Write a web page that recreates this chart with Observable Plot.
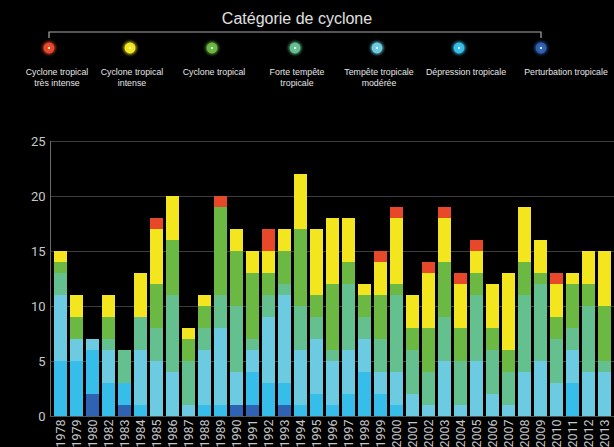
<!DOCTYPE html>
<html><head><meta charset="utf-8">
<script src="https://cdn.jsdelivr.net/npm/d3@7"></script>
<script src="https://cdn.jsdelivr.net/npm/@observablehq/plot@0.6"></script>
<style>
html,body{margin:0;padding:0;background:#000;}
body{width:614px;height:447px;overflow:hidden;font-family:"Liberation Sans",Arial,sans-serif;}
#legend{width:614px;height:125px;display:block;}
#chart svg{display:block;}
</style></head><body>
<svg id="legend" width="614" height="125"></svg>
<div id="chart"></div>
<script>
const years = ["1978","1979","1980","1982","1983","1984","1985","1986","1987","1988","1989","1990","1991","1992","1993","1994","1995","1996","1997","1998","1999","2000","2001","2002","2003","2004","2005","2006","2007","2008","2009","2010","2011","2012","2013"];
// stacking order, bottom to top
const categories = ["Perturbation tropicale","Dépression tropicale","Tempête tropicale modérée","Forte tempête tropicale","Cyclone tropical","Cyclone tropical intense","Cyclone tropical très intense"];
const legendLabels = [["Perturbation tropicale"],["Dépression tropicale"],["Tempête tropicale","modérée"],["Forte tempête","tropicale"],["Cyclone tropical"],["Cyclone tropical","intense"],["Cyclone tropical","très intense"]];
const colors = ["#2f62b3","#36bdea","#6ccbe0","#64c08e","#6bb843","#f3e61e","#e8482a"];

const perturbation  = [0,0,2,0,1,0,0,0,0,0,0,1,1,0,1,0,0,0,0,0,0,0,0,0,0,0,0,0,0,0,0,0,0,0,0];
const depression    = [5,5,4,3,2,1,0,0,0,1,1,0,3,3,2,1,2,1,2,4,2,1,0,0,0,0,0,0,0,0,0,0,3,0,0];
const moderee       = [6,2,1,3,0,5,5,4,1,5,7,3,2,6,8,5,5,4,4,3,2,3,2,1,5,1,5,2,1,4,5,3,3,4,4];
const forte         = [2,0,0,1,3,3,3,7,4,2,3,6,1,2,1,4,2,1,6,2,3,7,4,3,4,4,6,4,3,7,7,4,2,6,1];
const cyclone       = [1,2,0,2,0,0,4,5,2,2,8,5,6,2,3,7,2,6,2,2,4,1,2,4,5,3,2,2,2,3,1,2,4,2,5];
const intense       = [1,2,0,2,0,4,5,4,1,1,0,2,2,2,2,5,6,6,4,1,3,6,3,5,4,4,2,4,7,5,3,3,1,3,5];
const tresIntense   = [0,0,0,0,0,0,1,0,0,0,1,0,0,2,0,0,0,0,0,0,1,1,0,1,1,1,1,0,0,0,0,1,0,0,0];
const series = [perturbation, depression, moderee, forte, cyclone, intense, tresIntense];
const yTicks = [0,5,10,15,20,25];

const data = [];
years.forEach((yr, i) => series.forEach((s, j) => {
  if (s[i] > 0) data.push({year: yr, cat: categories[j], value: s[i]});
}));

// Legend (drawn above the chart)
const lg = d3.select("#legend");
const defs = lg.append("defs");
const glow = defs.append("filter").attr("id","glow").attr("x","-100%").attr("y","-100%").attr("width","300%").attr("height","300%");
glow.append("feGaussianBlur").attr("stdDeviation",1.8);
lg.append("text").attr("x",297).attr("y",24).attr("text-anchor","middle")
  .attr("fill","#e0e0e0").attr("font-size",16).attr("font-family","'Liberation Sans',Arial,sans-serif")
  .text("Catégorie de cyclone");
const dotX = [49,130,212,295,377,459,541];
lg.append("path").attr("d",`M${dotX[0]},38V32H${dotX[6]}V38`).attr("fill","none").attr("stroke","#aaa").attr("stroke-width",1.2);
const order = [6,5,4,3,2,1,0];
order.forEach((ci, k) => {
  const g = lg.append("g").attr("transform",`translate(${dotX[k]},48)`);
  g.append("circle").attr("r",6.5).attr("fill",colors[ci]).attr("opacity",0.8).attr("filter","url(#glow)");
  g.append("circle").attr("r",5.4).attr("fill",colors[ci]);
  g.append("circle").attr("r",1.2).attr("fill","#fff").attr("opacity",0.8);
  const lines = legendLabels[ci];
  const labelX = k === 6 ? 566 : (k === 0 ? 57 : (k === 5 ? 466 : dotX[k] + 2));
  const t = lg.append("text").attr("x",labelX).attr("y",75).attr("text-anchor","middle")
    .attr("fill","#e6e6e6").attr("font-size",8.8).attr("font-family","'Liberation Sans',Arial,sans-serif");
  lines.forEach((l, li) => t.append("tspan").attr("x",labelX).attr("dy", li === 0 ? 0 : 11).text(l));
});

const chart = Plot.plot({
  width: 614, height: 322,
  marginTop: 16, marginBottom: 31, marginLeft: 50, marginRight: 0,
  style: {background: "#000", color: "#c8c8c8", fontFamily: "Roboto, sans-serif"},
  x: {domain: years, padding: 0.2, label: null},
  y: {domain: [0, 25], label: null},
  color: {domain: categories, range: colors},
  marks: [
    Plot.gridY(yTicks.slice(1), {stroke: "#3c3c3c", strokeOpacity: 1, strokeWidth: 1.2}),
    Plot.barY(data, {x: "year", y: "value", fill: "cat", order: categories}),
    Plot.frame({anchor: "left", stroke: "#6a6a6a"}),
    Plot.ruleY([0], {stroke: "#555"}),
    Plot.axisY({ticks: yTicks, tickSize: 0, tickPadding: 5, fontSize: 13, label: null}),
    Plot.axisX({tickSize: 0, tickPadding: 3, tickRotate: -90, fontSize: 12.5, label: null})
  ]
});
document.getElementById("chart").appendChild(chart);
</script>
</body></html>
